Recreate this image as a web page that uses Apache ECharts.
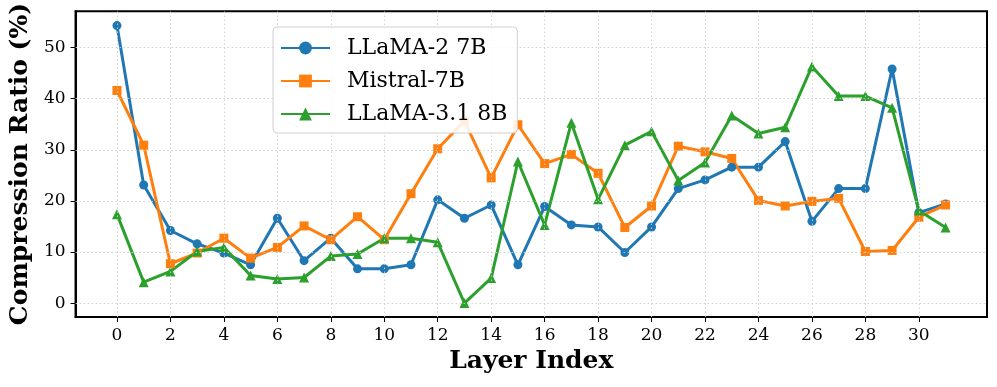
<!DOCTYPE html>
<html>
<head>
<meta charset="utf-8">
<script src="https://cdn.jsdelivr.net/npm/echarts@6/dist/echarts.min.js"></script>
<style>html,body{margin:0;padding:0;background:#fff}#c{width:997px;height:387px}</style>
</head>
<body>
<div id="c"></div>
<script>
const layers = Array.from({length: 32}, (_, i) => i);
const llama2 = [54.3,23.1,14.2,11.6,9.8,7.5,16.6,8.3,12.7,6.7,6.7,7.5,20.2,16.6,19.2,7.5,18.9,15.3,14.9,9.9,14.9,22.4,24.1,26.6,26.6,31.6,16.0,22.4,22.4,45.8,17.7,19.4];
const mistral = [41.6,30.9,7.7,9.8,12.7,8.8,10.9,15.1,12.4,16.9,12.4,21.4,30.2,35.6,24.5,34.9,27.3,29.1,25.4,14.8,19.0,30.7,29.6,28.3,20.1,19.0,19.9,20.5,10.1,10.3,16.8,19.2];
const llama31 = [17.4,4.1,6.2,10.1,10.9,5.4,4.7,5.0,9.2,9.6,12.7,12.7,11.9,0.0,4.9,27.7,15.3,35.3,20.3,30.9,33.6,24.0,27.5,36.7,33.2,34.4,46.3,40.5,40.5,38.2,18.1,14.8];
const xTicks = [0,2,4,6,8,10,12,14,16,18,20,22,24,26,28,30];
const yTicks = [0,10,20,30,40,50];
const seriesNames = ['LLaMA-2 7B','Mistral-7B','LLaMA-3.1 8B'];

const font = 'DejaVu Serif';
const chart = echarts.init(document.getElementById('c'), null, {renderer: 'canvas'});
const mk = (name, vals, color, symbol, size) => ({
  name, type: 'line', data: vals.map((v, i) => [layers[i], v]),
  symbol, symbolSize: size, showSymbol: true, z: 2,
  lineStyle: {color, width: 3}, itemStyle: {color},
  emphasis: {disabled: true}, animation: false
});
const gridStyle = {color: '#cccccc', type: [1.5, 2.5], width: 0.9};
chart.setOption({
  animation: false,
  grid: {left: 75, right: 10, top: 9.5, bottom: 70, show: true, borderColor: '#000', borderWidth: 2, backgroundColor: 'transparent'},
  legend: {
    orient: 'vertical', left: 273, top: 27, z: 20,
    data: seriesNames,
    itemWidth: 49, itemHeight: 16, itemGap: 11,
    padding: [10, 10, 8, 7],
    borderColor: '#d0d0d0', borderWidth: 1, borderRadius: 4,
    backgroundColor: 'rgba(255,255,255,0.88)',
    textStyle: {fontFamily: font, fontSize: 22, color: '#000', padding: [0, 0, 0, 12]}
  },
  xAxis: {
    type: 'value', min: -1.55, max: 32.55,
    name: 'Layer Index', nameLocation: 'middle', nameGap: 31,
    nameTextStyle: {fontFamily: font, fontSize: 25, fontWeight: 'bold', color: '#000'},
    axisLine: {show: true, onZero: false, lineStyle: {color: '#000', width: 2}},
    axisTick: {show: true, length: 5, lineStyle: {color: '#000', width: 1}, customValues: xTicks},
    axisLabel: {fontFamily: font, fontSize: 17, color: '#000', margin: 10, customValues: xTicks},
    splitLine: {show: false}
  },
  yAxis: {
    type: 'value', min: -2.72, max: 57.12,
    name: 'Compression Ratio (%)', nameLocation: 'middle', nameGap: 37,
    nameTextStyle: {fontFamily: font, fontSize: 25, fontWeight: 'bold', color: '#000'},
    axisLine: {show: true, onZero: false, lineStyle: {color: '#000', width: 2}},
    axisTick: {show: true, length: 5, lineStyle: {color: '#000', width: 1}, customValues: yTicks},
    axisLabel: {fontFamily: font, fontSize: 17, color: '#000', margin: 10, customValues: yTicks},
    splitLine: {show: false}
  },
  series: [
    {
      name: 'gridlines', type: 'line', data: [], z: 1, silent: true,
      markLine: {
        silent: true, symbol: ['none', 'none'], animation: false,
        label: {show: false}, lineStyle: gridStyle, emphasis: {disabled: true},
        data: xTicks.map(v => ({xAxis: v})).concat(yTicks.map(v => ({yAxis: v})))
      }
    },
    mk(seriesNames[0], llama2, '#1f77b4', 'circle', 9),
    mk(seriesNames[1], mistral, '#ff7f0e', 'rect', 9),
    mk(seriesNames[2], llama31, '#2ca02c', 'triangle', 10)
  ]
});
</script>
</body>
</html>
